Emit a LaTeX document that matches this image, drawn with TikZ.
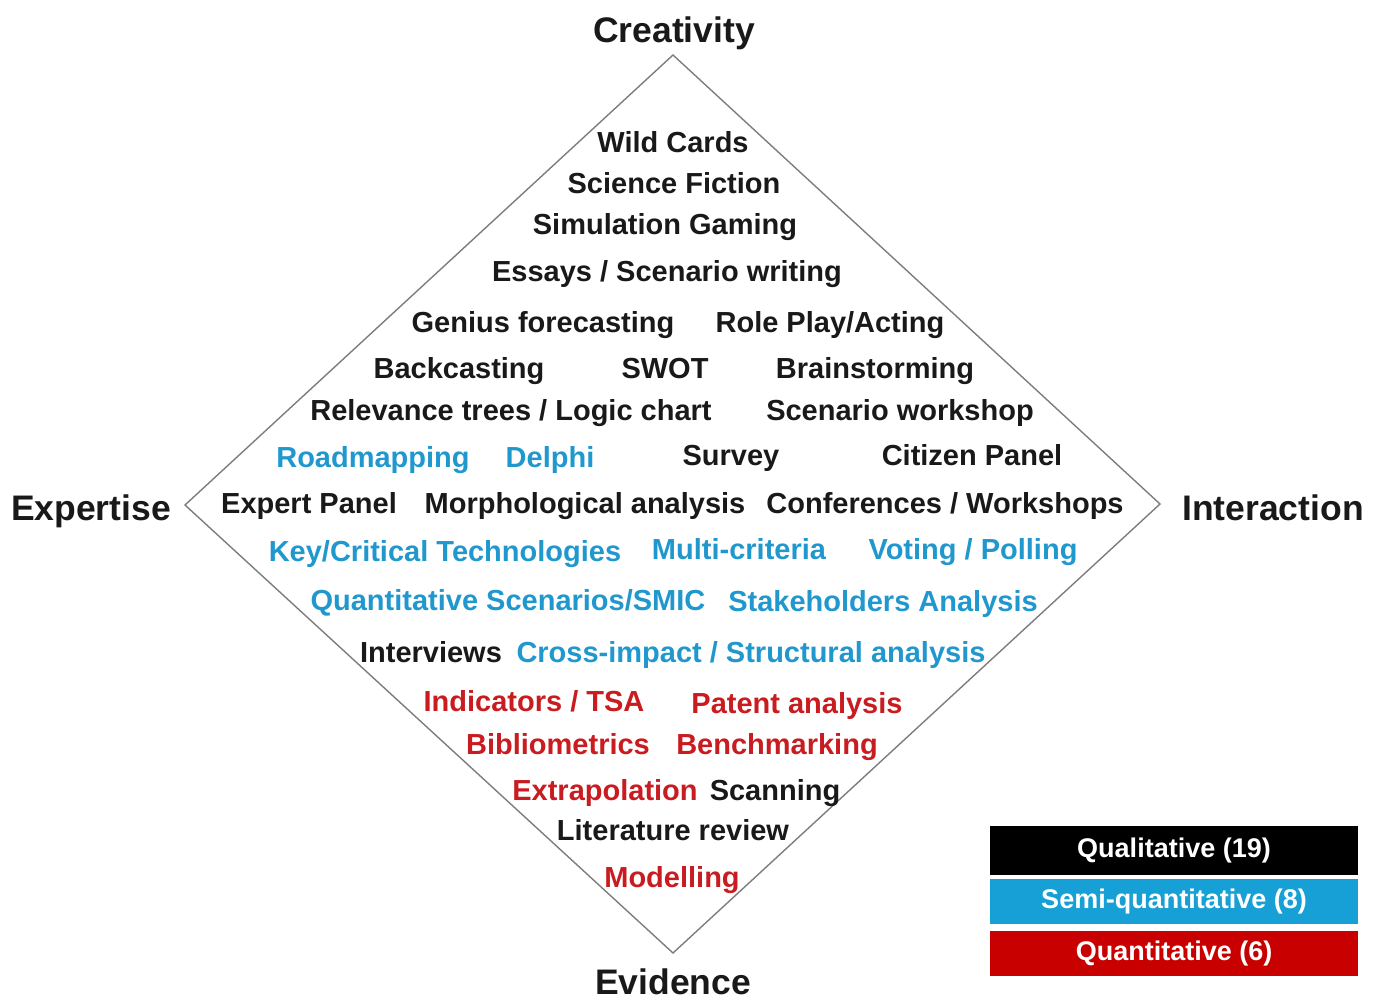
\documentclass[tikz,border=0pt]{standalone}
\usepackage{fontspec}
\setmainfont{Liberation Sans}
\definecolor{qblue}{RGB}{32,152,206}
\definecolor{qred}{RGB}{200,28,32}
\definecolor{lblue}{RGB}{22,160,214}
\definecolor{lred}{RGB}{200,0,0}
\definecolor{edgegray}{RGB}{125,125,125}
\begin{document}
\begin{tikzpicture}[x=1pt,y=-1pt,
  m/.style={inner sep=0pt,yshift=-7pt,text height=0.72em,text depth=0pt,font=\fontsize{29}{32}\selectfont\bfseries,text=black!90},
  mb/.style={m,text=qblue},
  mr/.style={m,text=qred},
  head/.style={inner sep=0pt,yshift=-9pt,text height=0.72em,text depth=0pt,font=\fontsize{35.5}{40}\selectfont\bfseries,text=black!90},
  leg/.style={inner sep=0pt,minimum width=368pt,text=white,font=\fontsize{27}{30}\selectfont\bfseries}]
\useasboundingbox (0,0) rectangle (1381,998);
% diamond
\coordinate (T) at (673,55);
\coordinate (L) at (185,505);
\coordinate (B) at (673,953);
\coordinate (R) at (1160,504);
\draw[edgegray,line width=1.4pt,line join=miter] (T) -- (R) -- (B) -- (L) -- cycle;
% headings
\node[head] (hc) at (674,30) {Creativity};
\node[head] (he) at (91,508) {Expertise};
\node[head] (hi) at (1273,508) {Interaction};
\node[head] (hv) at (673,982) {Evidence};
% methods
\node[m] (n1) at (673,142) {Wild Cards};
\node[m] (n2) at (674,183) {Science Fiction};
\node[m] (n3) at (665,224) {Simulation Gaming};
\node[m] (n4) at (667,271) {Essays / Scenario writing};
\node[m] (n5) at (543,322) {Genius forecasting};
\node[m] (n6) at (830,322) {Role Play/Acting};
\node[m] (n7) at (459,368) {Backcasting};
\node[m] (n8) at (665,368) {SWOT};
\node[m] (n9) at (875,368) {Brainstorming};
\node[m] (n10) at (511,410) {Relevance trees / Logic chart};
\node[m] (n11) at (900,410) {Scenario workshop};
\node[mb] (n12) at (373,457) {Roadmapping};
\node[mb] (n13) at (550,457) {Delphi};
\node[m] (n14) at (731,455) {Survey};
\node[m] (n15) at (972,455) {Citizen Panel};
\node[m] (n16) at (309,503) {Expert Panel};
\node[m] (n17) at (585,503) {Morphological analysis};
\node[m] (n18) at (945,503) {Conferences / Workshops};
\node[mb] (n19) at (445,551) {Key/Critical Technologies};
\node[mb] (n20) at (739,549) {Multi-criteria};
\node[mb] (n21) at (973,549) {Voting / Polling};
\node[mb] (n22) at (508,600) {Quantitative Scenarios/SMIC};
\node[mb] (n23) at (883,601) {Stakeholders Analysis};
\node[m] (n24) at (431,652) {Interviews};
\node[mb] (n25) at (751,652) {Cross-impact / Structural analysis};
\node[mr] (n26) at (534,701) {Indicators / TSA};
\node[mr] (n27) at (797,703) {Patent analysis};
\node[mr] (n28) at (558,744) {Bibliometrics};
\node[mr] (n29) at (777,744) {Benchmarking};
\node[mr] (n30) at (605,790) {Extrapolation};
\node[m] (n31) at (775,790) {Scanning};
\node[m] (n32) at (673,830) {Literature review};
\node[mr] (n33) at (672,877) {Modelling};
% legend
\node[leg,fill=black,minimum height=49pt] (l1) at (1174,850.5) {Qualitative (19)};
\node[leg,fill=lblue,minimum height=45pt] (l2) at (1174,901.5) {Semi-quantitative (8)};
\node[leg,fill=lred,minimum height=45pt] (l3) at (1174,953.5) {Quantitative (6)};
\end{tikzpicture}
\end{document}
